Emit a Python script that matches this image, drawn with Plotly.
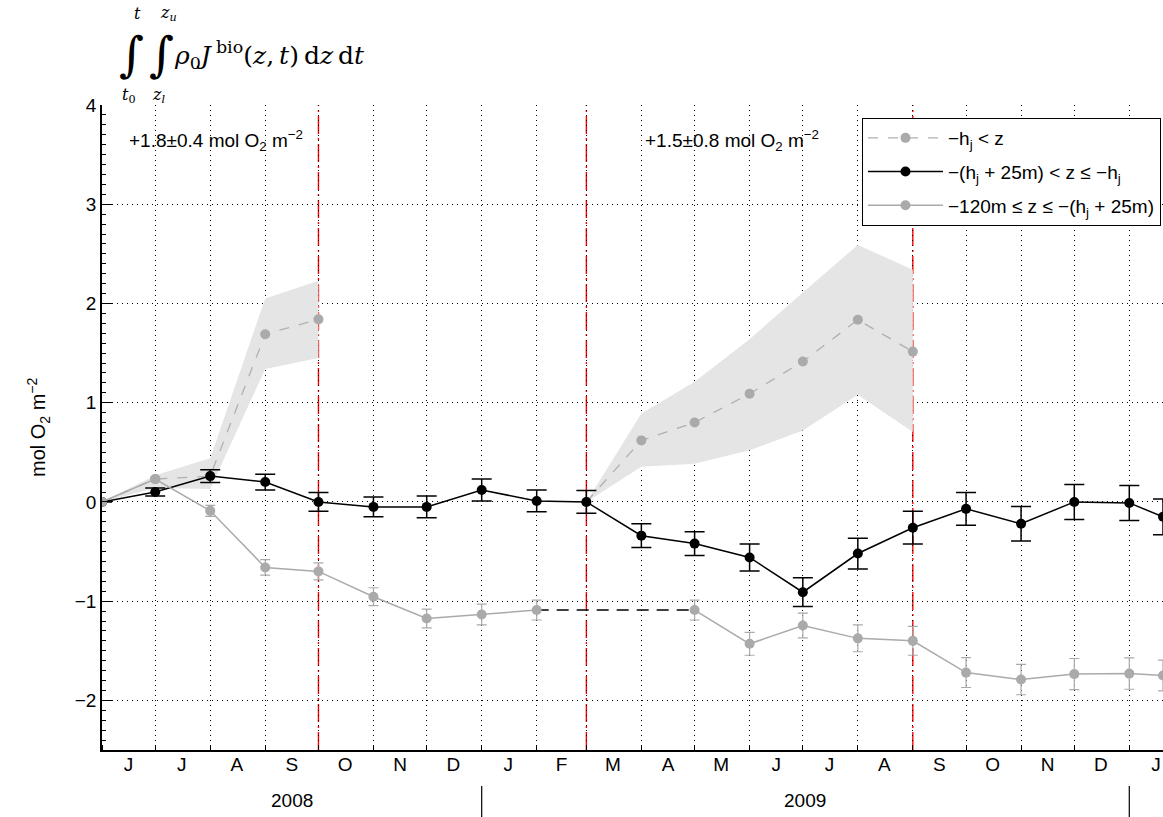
import plotly.graph_objects as go

# ---------------------------------------------------------------- data
months = ["2008-06-01", "2008-07-01", "2008-08-01", "2008-09-01", "2008-10-01",
          "2008-11-01", "2008-12-01", "2009-01-01", "2009-02-01", "2009-03-01",
          "2009-04-01", "2009-05-01", "2009-06-01", "2009-07-01", "2009-08-01",
          "2009-09-01", "2009-10-01", "2009-11-01", "2009-12-01", "2010-01-01",
          "2010-01-20"]

# -h_j < z (mixed layer), with uncertainty envelope
surf_vals = [0.00, 0.23, 0.26, 1.69, 1.84, None, None, None, None, 0.00,
             0.62, 0.80, 1.09, 1.415, 1.835, 1.515, None, None, None, None, None]
surf_hi = [0.00, 0.27, 0.44, 2.05, 2.23, None, None, None, None, 0.00,
           0.89, 1.21, 1.64, 2.11, 2.59, 2.34, None, None, None, None, None]
surf_lo = [0.00, 0.14, 0.13, 1.34, 1.45, None, None, None, None, 0.00,
           0.355, 0.385, 0.52, 0.72, 1.08, 0.705, None, None, None, None, None]

# -(h_j + 25m) < z <= -h_j
mid_vals = [0.00, 0.10, 0.26, 0.20, 0.00, -0.05, -0.05, 0.12, 0.01, 0.00,
            -0.34, -0.42, -0.56, -0.91, -0.52, -0.26, -0.07, -0.22, 0.00, -0.01, -0.15]
mid_err = [0.00, 0.04, 0.065, 0.08, 0.095, 0.10, 0.11, 0.11, 0.11, 0.115,
           0.12, 0.12, 0.135, 0.145, 0.155, 0.165, 0.165, 0.173, 0.176, 0.176, 0.18]

# -120m <= z <= -(h_j + 25m)
deep_vals = [0.00, 0.23, -0.09, -0.66, -0.70, -0.955, -1.175, -1.135, -1.09, None,
             None, -1.09, -1.43, -1.245, -1.375, -1.40, -1.72, -1.79, -1.735, -1.73, -1.75]
deep_err = [0.00, 0.02, 0.055, 0.078, 0.085, 0.09, 0.095, 0.105, 0.10, None,
            None, 0.10, 0.115, 0.125, 0.135, 0.145, 0.15, 0.153, 0.157, 0.158, 0.155]

season_bounds = ["2008-10-01", "2009-03-01", "2009-09-01"]
month_mid = ["2008-06-16", "2008-07-16", "2008-08-16", "2008-09-16", "2008-10-16",
             "2008-11-16", "2008-12-16", "2009-01-16", "2009-02-15", "2009-03-16",
             "2009-04-16", "2009-05-16", "2009-06-16", "2009-07-16", "2009-08-16",
             "2009-09-16", "2009-10-16", "2009-11-16", "2009-12-16", "2010-01-16"]
month_letters = ["J", "J", "A", "S", "O", "N", "D", "J", "F", "M",
                 "A", "M", "J", "J", "A", "S", "O", "N", "D", "J"]
years = ["2008", "2009"]
year_centres = ["2008-09-16", "2009-07-02"]
year_breaks = ["2009-01-01", "2010-01-01"]

# ---------------------------------------------------------------- geometry
W, H = 1163, 817
ML, MR, MT, MB = 102, 0, 105, 67
PW, PH = W - ML - MR, H - MT - MB


def px(xp):
    return (xp - ML) / PW


def py(yp):
    return (H - MB - yp) / PH


GRAY = "#aaaaaa"
BAND = "#e5e5e5"
FONT = "Liberation Sans"
SERIF = "DejaVu Serif"

fig = go.Figure()


def band(idx):
    xs = [months[i] for i in idx]
    hi = [surf_hi[i] for i in idx]
    lo = [surf_lo[i] for i in idx]
    fig.add_trace(go.Scatter(x=xs + xs[::-1], y=hi + lo[::-1], fill="toself",
                             fillcolor=BAND, line=dict(width=0), mode="lines",
                             showlegend=False, hoverinfo="skip"))


band([i for i in range(len(months)) if surf_hi[i] is not None and months[i] < "2009-01-01"])
band([i for i in range(len(months)) if surf_hi[i] is not None and months[i] > "2009-01-01"])

fig.add_trace(go.Scatter(
    x=months, y=surf_vals, mode="lines+markers", connectgaps=False,
    name="\u2212h<sub>j</sub> &lt; z", legendgroup="a",
    line=dict(color="#b0b0b0", width=1.3, dash="10px,10px"),
    marker=dict(color=GRAY, size=10)))

fig.add_trace(go.Scatter(
    x=months, y=mid_vals, mode="lines+markers", legendgroup="b",
    name="\u2212(h<sub>j</sub> + 25m) &lt; z \u2264 \u2212h<sub>j</sub>",
    line=dict(color="black", width=1.5),
    marker=dict(color="black", size=10),
    error_y=dict(type="data", array=mid_err, color="black", thickness=1.5, width=10)))

# gap in the deep layer bridged with a dashed connector
gap_l = max(i for i in range(len(months)) if months[i] < "2009-03-01" and deep_vals[i] is not None)
gap_r = min(i for i in range(len(months)) if months[i] > "2009-03-01" and deep_vals[i] is not None)
fig.add_trace(go.Scatter(
    x=[months[gap_l], months[gap_r]], y=[deep_vals[gap_l], deep_vals[gap_r]],
    mode="lines", line=dict(color="black", width=1.5, dash="12px,8px"),
    showlegend=False, hoverinfo="skip"))

fig.add_trace(go.Scatter(
    x=months, y=deep_vals, mode="lines+markers", connectgaps=False, legendgroup="c",
    name="\u2212120m \u2264 z \u2264 \u2212(h<sub>j</sub> + 25m)",
    line=dict(color=GRAY, width=1.5),
    marker=dict(color=GRAY, size=10),
    error_y=dict(type="data", array=deep_err, color=GRAY, thickness=1.2, width=5)))

# season boundaries
for d in season_bounds:
    fig.add_shape(type="line", xref="x", yref="paper", x0=d, x1=d, y0=0, y1=1,
                  line=dict(color="#ff0000", width=1.4, dash="18px,4px,2px,4px"),
                  layer="between")

annotations = [
    dict(x="2008-06-15", y=3.64, xref="x", yref="y", xanchor="left", yanchor="middle",
         text="+1.8\u00b10.4 mol O<sub>2</sub> m<sup>\u22122</sup>", showarrow=False,
         font=dict(family=FONT, size=19, color="black")),
    dict(x="2009-04-02", y=3.64, xref="x", yref="y", xanchor="left", yanchor="middle",
         text="+1.5\u00b10.8 mol O<sub>2</sub> m<sup>\u22122</sup>", showarrow=False,
         font=dict(family=FONT, size=19, color="black")),
    dict(x=px(38), y=py(427), xref="paper", yref="paper", textangle=-90,
         xanchor="center", yanchor="middle",
         text="mol O<sub>2</sub> m<sup>\u22122</sup>", showarrow=False,
         font=dict(family=FONT, size=20, color="black")),
]
for yr, xc in zip(years, year_centres):
    annotations.append(dict(x=xc, y=py(800), xref="x", yref="paper", text=yr,
                            xanchor="center", yanchor="middle", showarrow=False,
                            font=dict(family=FONT, size=19, color="black")))

# integral expression above the axes
formula = [
    ("\u222b", 131, 54, 48),
    ("<i>t</i>", 137, 13, 16),
    ("<i>t</i><sub>0</sub>", 129, 96, 16),
    ("\u222b", 161, 54, 48),
    ("<i>z</i><sub><i>u</i></sub>", 168, 13, 16),
    ("<i>z</i><sub><i>l</i></sub>", 158, 96, 16),
]
for txt, xx, yy, sz in formula:
    annotations.append(dict(x=px(xx), y=py(yy), xref="paper", yref="paper", text=txt,
                            showarrow=False, xanchor="center", yanchor="middle",
                            font=dict(family=SERIF, size=sz, color="black")))
annotations.append(dict(
    x=px(172), y=py(55), xref="paper", yref="paper", xanchor="left", yanchor="middle",
    text="<i>\u03c1</i><sub>0</sub><i>J</i>\u2009<sup>bio</sup>(<i>z</i>,\u2009<i>t</i>)\u2009d<i>z</i>\u2009d<i>t</i>",
    showarrow=False, font=dict(family=SERIF, size=25, color="black")))

for d in year_breaks:
    fig.add_shape(type="line", xref="x", yref="paper", x0=d, x1=d,
                  y0=py(786), y1=py(817), line=dict(color="black", width=1.2))

fig.update_layout(
    width=W, height=H,
    margin=dict(l=ML, r=MR, t=MT, b=MB),
    paper_bgcolor="white", plot_bgcolor="white",
    font=dict(family=FONT, size=18, color="black"),
    annotations=annotations,
    legend=dict(x=px(1161), y=py(118), xanchor="right", yanchor="top",
                bgcolor="white", bordercolor="black", borderwidth=1,
                font=dict(family=FONT, size=19, color="black"),
                itemwidth=75, entrywidth=300, tracegroupgap=6),
    xaxis=dict(
        type="date", range=["2008-06-01", "2010-01-20"],
        tickmode="array", tickvals=month_mid, ticktext=month_letters,
        ticks="", showgrid=False, showline=True, linecolor="black", linewidth=1.5,
        tickfont=dict(family=FONT, size=19, color="black"), ticklabelstandoff=-4,
        zeroline=False,
        minor=dict(tick0="2008-06-01", dtick="M1", ticks="inside", ticklen=5,
                   tickcolor="black", tickwidth=1, showgrid=True, gridcolor="black",
                   griddash="1px,4px", gridwidth=1),
    ),
    yaxis=dict(
        range=[-2.5, 4], tick0=0, dtick=1, ticks="inside", ticklen=10,
        tickcolor="black", tickwidth=1, showline=True, linecolor="black", linewidth=1.5,
        showgrid=True, gridcolor="black", griddash="1px,4px", gridwidth=1,
        zeroline=False, tickfont=dict(family=FONT, size=19, color="black"),
        minor=dict(dtick=0.1, ticks="inside", ticklen=4, tickcolor="black",
                   tickwidth=1, showgrid=False),
    ),
)

fig.write_html("out.html")
